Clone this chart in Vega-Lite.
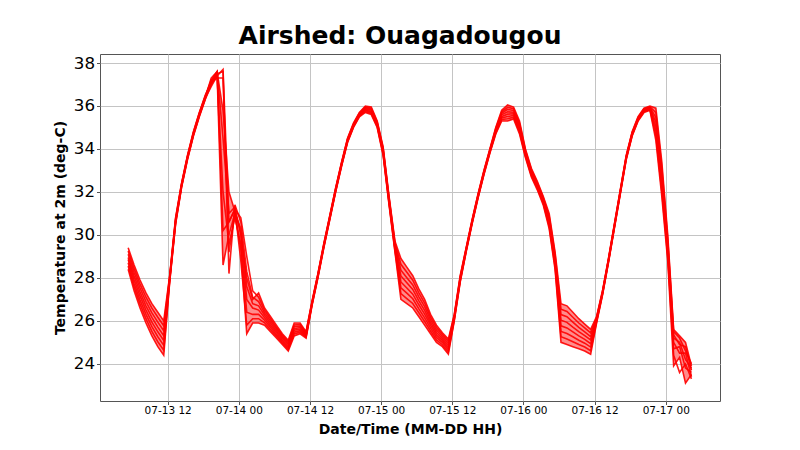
{
  "$schema": "https://vega.github.io/schema/vega-lite/v6.json",
  "width": 620,
  "height": 347,
  "autosize": {"type": "none"},
  "padding": {"left": 100, "top": 54, "right": 80, "bottom": 49},
  "background": "white",
  "title": {"text": "Airshed: Ouagadougou", "fontSize": 25, "fontWeight": "bold", "font": "DejaVu Sans", "color": "black", "anchor": "middle", "dx": -10, "dy": 24, "offset": 9, "baseline": "alphabetic"},
  "data": {"values": [
    {"t":"2023-07-13T05:20:00Z","a":28.4,"b":28.55,"c":28.7,"d":28.85,"e":28.95,"f":29.1,"g":29.25,"h":29.4},
    {"t":"2023-07-13T06:20:00Z","a":27.4,"b":27.57,"c":27.74,"d":27.91,"e":28.09,"f":28.26,"g":28.43,"h":28.6},
    {"t":"2023-07-13T07:20:00Z","a":26.6,"b":26.79,"c":26.97,"d":27.16,"e":27.34,"f":27.53,"g":27.71,"h":27.9},
    {"t":"2023-07-13T08:20:00Z","a":25.9,"b":26.1,"c":26.3,"d":26.5,"e":26.7,"f":26.9,"g":27.1,"h":27.3},
    {"t":"2023-07-13T09:20:00Z","a":25.3,"b":25.51,"c":25.73,"d":25.94,"e":26.16,"f":26.37,"g":26.59,"h":26.8},
    {"t":"2023-07-13T10:20:00Z","a":24.8,"b":25.03,"c":25.26,"d":25.49,"e":25.71,"f":25.94,"g":26.17,"h":26.4},
    {"t":"2023-07-13T11:20:00Z","a":24.4,"b":24.63,"c":24.86,"d":25.09,"e":25.31,"f":25.54,"g":25.77,"h":26.0},
    {"t":"2023-07-13T12:20:00Z","a":27.8,"b":27.84,"c":27.89,"d":27.93,"e":27.97,"f":28.01,"g":28.06,"h":28.1},
    {"t":"2023-07-13T13:20:00Z","a":30.5,"b":30.54,"c":30.59,"d":30.63,"e":30.67,"f":30.71,"g":30.76,"h":30.8},
    {"t":"2023-07-13T14:20:00Z","a":32.2,"b":32.23,"c":32.26,"d":32.29,"e":32.31,"f":32.34,"g":32.37,"h":32.4},
    {"t":"2023-07-13T15:20:00Z","a":33.5,"b":33.53,"c":33.56,"d":33.59,"e":33.61,"f":33.64,"g":33.67,"h":33.7},
    {"t":"2023-07-13T16:20:00Z","a":34.6,"b":34.63,"c":34.66,"d":34.69,"e":34.71,"f":34.74,"g":34.77,"h":34.8},
    {"t":"2023-07-13T17:20:00Z","a":35.5,"b":35.53,"c":35.56,"d":35.59,"e":35.61,"f":35.64,"g":35.67,"h":35.7},
    {"t":"2023-07-13T18:20:00Z","a":36.3,"b":36.33,"c":36.36,"d":36.39,"e":36.41,"f":36.44,"g":36.47,"h":36.5},
    {"t":"2023-07-13T19:20:00Z","a":37.0,"b":37.2,"c":36.9,"d":37.3,"e":37.1,"f":37.0,"g":37.2,"h":37.1},
    {"t":"2023-07-13T20:20:00Z","a":37.5,"b":37.6,"c":37.4,"d":37.6,"e":37.3,"f":37.5,"g":37.4,"h":37.6},
    {"t":"2023-07-13T21:20:00Z","a":28.6,"b":30.2,"c":32.0,"d":34.5,"e":37.3,"f":37.6,"g":37.7,"h":35.8},
    {"t":"2023-07-13T22:20:00Z","a":30.0,"b":30.6,"c":29.6,"d":31.0,"e":29.2,"f":28.2,"g":30.6,"h":32.0},
    {"t":"2023-07-13T23:20:00Z","a":31.0,"b":31.2,"c":30.8,"d":31.3,"e":31.0,"f":31.4,"g":31.2,"h":31.1},
    {"t":"2023-07-14T00:20:00Z","a":29.3,"b":28.8,"c":29.6,"d":30.0,"e":30.3,"f":30.6,"g":30.8,"h":30.1},
    {"t":"2023-07-14T01:20:00Z","a":25.4,"b":25.8,"c":26.4,"d":27.0,"e":27.6,"f":28.3,"g":29.0,"h":28.0},
    {"t":"2023-07-14T02:20:00Z","a":25.9,"b":26.1,"c":26.3,"d":26.6,"e":26.8,"f":27.1,"g":27.4,"h":27.0},
    {"t":"2023-07-14T03:20:00Z","a":25.9,"b":26.1,"c":26.3,"d":26.5,"e":26.7,"f":26.9,"g":27.1,"h":27.3},
    {"t":"2023-07-14T04:20:00Z","a":25.8,"b":25.91,"c":26.03,"d":26.14,"e":26.26,"f":26.37,"g":26.49,"h":26.6},
    {"t":"2023-07-14T05:20:00Z","a":25.5,"b":25.6,"c":25.7,"d":25.8,"e":25.9,"f":26.0,"g":26.1,"h":26.2},
    {"t":"2023-07-14T06:20:00Z","a":25.2,"b":25.29,"c":25.37,"d":25.46,"e":25.54,"f":25.63,"g":25.71,"h":25.8},
    {"t":"2023-07-14T07:20:00Z","a":24.9,"b":24.97,"c":25.04,"d":25.11,"e":25.19,"f":25.26,"g":25.33,"h":25.4},
    {"t":"2023-07-14T08:20:00Z","a":24.6,"b":24.67,"c":24.74,"d":24.81,"e":24.89,"f":24.96,"g":25.03,"h":25.1},
    {"t":"2023-07-14T09:20:00Z","a":25.3,"b":25.39,"c":25.47,"d":25.56,"e":25.64,"f":25.73,"g":25.81,"h":25.9},
    {"t":"2023-07-14T10:20:00Z","a":25.4,"b":25.47,"c":25.54,"d":25.61,"e":25.69,"f":25.76,"g":25.83,"h":25.9},
    {"t":"2023-07-14T11:20:00Z","a":25.2,"b":25.24,"c":25.29,"d":25.33,"e":25.37,"f":25.41,"g":25.46,"h":25.5},
    {"t":"2023-07-14T12:20:00Z","a":26.7,"b":26.73,"c":26.76,"d":26.79,"e":26.81,"f":26.84,"g":26.87,"h":26.9},
    {"t":"2023-07-14T13:20:00Z","a":28.0,"b":28.03,"c":28.06,"d":28.09,"e":28.11,"f":28.14,"g":28.17,"h":28.2},
    {"t":"2023-07-14T14:20:00Z","a":29.4,"b":29.43,"c":29.46,"d":29.49,"e":29.51,"f":29.54,"g":29.57,"h":29.6},
    {"t":"2023-07-14T15:20:00Z","a":30.7,"b":30.73,"c":30.76,"d":30.79,"e":30.81,"f":30.84,"g":30.87,"h":30.9},
    {"t":"2023-07-14T16:20:00Z","a":32.0,"b":32.03,"c":32.06,"d":32.09,"e":32.11,"f":32.14,"g":32.17,"h":32.2},
    {"t":"2023-07-14T17:20:00Z","a":33.2,"b":33.23,"c":33.26,"d":33.29,"e":33.31,"f":33.34,"g":33.37,"h":33.4},
    {"t":"2023-07-14T18:20:00Z","a":34.3,"b":34.33,"c":34.36,"d":34.39,"e":34.41,"f":34.44,"g":34.47,"h":34.5},
    {"t":"2023-07-14T19:20:00Z","a":35.0,"b":35.03,"c":35.06,"d":35.09,"e":35.11,"f":35.14,"g":35.17,"h":35.2},
    {"t":"2023-07-14T20:20:00Z","a":35.5,"b":35.53,"c":35.56,"d":35.59,"e":35.61,"f":35.64,"g":35.67,"h":35.7},
    {"t":"2023-07-14T21:20:00Z","a":35.7,"b":35.74,"c":35.79,"d":35.83,"e":35.87,"f":35.91,"g":35.96,"h":36.0},
    {"t":"2023-07-14T22:20:00Z","a":35.6,"b":35.65,"c":35.7,"d":35.75,"e":35.8,"f":35.85,"g":35.9,"h":35.95},
    {"t":"2023-07-14T23:20:00Z","a":35.0,"b":35.04,"c":35.09,"d":35.13,"e":35.17,"f":35.21,"g":35.26,"h":35.3},
    {"t":"2023-07-15T00:20:00Z","a":33.7,"b":33.76,"c":33.81,"d":33.87,"e":33.93,"f":33.99,"g":34.04,"h":34.1},
    {"t":"2023-07-15T01:20:00Z","a":31.4,"b":31.46,"c":31.51,"d":31.57,"e":31.63,"f":31.69,"g":31.74,"h":31.8},
    {"t":"2023-07-15T02:20:00Z","a":29.2,"b":29.27,"c":29.34,"d":29.41,"e":29.49,"f":29.56,"g":29.63,"h":29.7},
    {"t":"2023-07-15T03:20:00Z","a":27.0,"b":27.27,"c":27.54,"d":27.81,"e":28.09,"f":28.36,"g":28.63,"h":28.9},
    {"t":"2023-07-15T04:20:00Z","a":26.8,"b":27.04,"c":27.29,"d":27.53,"e":27.77,"f":28.01,"g":28.26,"h":28.5},
    {"t":"2023-07-15T05:20:00Z","a":26.6,"b":26.81,"c":27.03,"d":27.24,"e":27.46,"f":27.67,"g":27.89,"h":28.1},
    {"t":"2023-07-15T06:20:00Z","a":26.2,"b":26.39,"c":26.57,"d":26.76,"e":26.94,"f":27.13,"g":27.31,"h":27.5},
    {"t":"2023-07-15T07:20:00Z","a":25.8,"b":25.97,"c":26.14,"d":26.31,"e":26.49,"f":26.66,"g":26.83,"h":27.0},
    {"t":"2023-07-15T08:20:00Z","a":25.4,"b":25.53,"c":25.66,"d":25.79,"e":25.91,"f":26.04,"g":26.17,"h":26.3},
    {"t":"2023-07-15T09:20:00Z","a":25.0,"b":25.11,"c":25.23,"d":25.34,"e":25.46,"f":25.57,"g":25.69,"h":25.8},
    {"t":"2023-07-15T10:20:00Z","a":24.8,"b":24.89,"c":24.99,"d":25.08,"e":25.17,"f":25.26,"g":25.36,"h":25.45},
    {"t":"2023-07-15T11:20:00Z","a":24.45,"b":24.55,"c":24.65,"d":24.75,"e":24.85,"f":24.95,"g":25.05,"h":25.15},
    {"t":"2023-07-15T12:20:00Z","a":26.0,"b":26.04,"c":26.09,"d":26.13,"e":26.17,"f":26.21,"g":26.26,"h":26.3},
    {"t":"2023-07-15T13:20:00Z","a":27.8,"b":27.84,"c":27.89,"d":27.93,"e":27.97,"f":28.01,"g":28.06,"h":28.1},
    {"t":"2023-07-15T14:20:00Z","a":29.2,"b":29.23,"c":29.26,"d":29.29,"e":29.31,"f":29.34,"g":29.37,"h":29.4},
    {"t":"2023-07-15T15:20:00Z","a":30.5,"b":30.53,"c":30.56,"d":30.59,"e":30.61,"f":30.64,"g":30.67,"h":30.7},
    {"t":"2023-07-15T16:20:00Z","a":31.7,"b":31.73,"c":31.76,"d":31.79,"e":31.81,"f":31.84,"g":31.87,"h":31.9},
    {"t":"2023-07-15T17:20:00Z","a":32.8,"b":32.83,"c":32.86,"d":32.89,"e":32.91,"f":32.94,"g":32.97,"h":33.0},
    {"t":"2023-07-15T18:20:00Z","a":33.8,"b":33.83,"c":33.86,"d":33.89,"e":33.91,"f":33.94,"g":33.97,"h":34.0},
    {"t":"2023-07-15T19:20:00Z","a":34.7,"b":34.74,"c":34.79,"d":34.83,"e":34.87,"f":34.91,"g":34.96,"h":35.0},
    {"t":"2023-07-15T20:20:00Z","a":35.3,"b":35.37,"c":35.44,"d":35.51,"e":35.59,"f":35.66,"g":35.73,"h":35.8},
    {"t":"2023-07-15T21:20:00Z","a":35.3,"b":35.41,"c":35.51,"d":35.62,"e":35.73,"f":35.84,"g":35.94,"h":36.05},
    {"t":"2023-07-15T22:20:00Z","a":35.4,"b":35.48,"c":35.56,"d":35.64,"e":35.71,"f":35.79,"g":35.87,"h":35.95},
    {"t":"2023-07-15T23:20:00Z","a":34.7,"b":34.79,"c":34.87,"d":34.96,"e":35.04,"f":35.13,"g":35.21,"h":35.3},
    {"t":"2023-07-16T00:20:00Z","a":33.6,"b":33.66,"c":33.71,"d":33.77,"e":33.83,"f":33.89,"g":33.94,"h":34.0},
    {"t":"2023-07-16T01:20:00Z","a":32.7,"b":32.76,"c":32.81,"d":32.87,"e":32.93,"f":32.99,"g":33.04,"h":33.1},
    {"t":"2023-07-16T02:20:00Z","a":32.1,"b":32.16,"c":32.21,"d":32.27,"e":32.33,"f":32.39,"g":32.44,"h":32.5},
    {"t":"2023-07-16T03:20:00Z","a":31.4,"b":31.46,"c":31.51,"d":31.57,"e":31.63,"f":31.69,"g":31.74,"h":31.8},
    {"t":"2023-07-16T04:20:00Z","a":30.3,"b":30.4,"c":30.5,"d":30.6,"e":30.7,"f":30.8,"g":30.9,"h":31.0},
    {"t":"2023-07-16T05:20:00Z","a":28.4,"b":28.51,"c":28.63,"d":28.74,"e":28.86,"f":28.97,"g":29.09,"h":29.2},
    {"t":"2023-07-16T06:20:00Z","a":25.0,"b":25.26,"c":25.51,"d":25.77,"e":26.03,"f":26.29,"g":26.54,"h":26.8},
    {"t":"2023-07-16T07:20:00Z","a":24.9,"b":25.16,"c":25.41,"d":25.67,"e":25.93,"f":26.19,"g":26.44,"h":26.7},
    {"t":"2023-07-16T08:20:00Z","a":24.8,"b":25.03,"c":25.26,"d":25.49,"e":25.71,"f":25.94,"g":26.17,"h":26.4},
    {"t":"2023-07-16T09:20:00Z","a":24.7,"b":24.9,"c":25.1,"d":25.3,"e":25.5,"f":25.7,"g":25.9,"h":26.1},
    {"t":"2023-07-16T10:20:00Z","a":24.6,"b":24.78,"c":24.96,"d":25.14,"e":25.31,"f":25.49,"g":25.67,"h":25.85},
    {"t":"2023-07-16T11:20:00Z","a":24.45,"b":24.61,"c":24.78,"d":24.94,"e":25.11,"f":25.27,"g":25.44,"h":25.6},
    {"t":"2023-07-16T12:20:00Z","a":25.9,"b":25.94,"c":25.99,"d":26.03,"e":26.07,"f":26.11,"g":26.16,"h":26.2},
    {"t":"2023-07-16T13:20:00Z","a":27.2,"b":27.23,"c":27.26,"d":27.29,"e":27.31,"f":27.34,"g":27.37,"h":27.4},
    {"t":"2023-07-16T14:20:00Z","a":28.7,"b":28.73,"c":28.76,"d":28.79,"e":28.81,"f":28.84,"g":28.87,"h":28.9},
    {"t":"2023-07-16T15:20:00Z","a":30.3,"b":30.33,"c":30.36,"d":30.39,"e":30.41,"f":30.44,"g":30.47,"h":30.5},
    {"t":"2023-07-16T16:20:00Z","a":31.9,"b":31.93,"c":31.96,"d":31.99,"e":32.01,"f":32.04,"g":32.07,"h":32.1},
    {"t":"2023-07-16T17:20:00Z","a":33.5,"b":33.53,"c":33.56,"d":33.59,"e":33.61,"f":33.64,"g":33.67,"h":33.7},
    {"t":"2023-07-16T18:20:00Z","a":34.6,"b":34.63,"c":34.66,"d":34.69,"e":34.71,"f":34.74,"g":34.77,"h":34.8},
    {"t":"2023-07-16T19:20:00Z","a":35.3,"b":35.33,"c":35.36,"d":35.39,"e":35.41,"f":35.44,"g":35.47,"h":35.5},
    {"t":"2023-07-16T20:20:00Z","a":35.7,"b":35.73,"c":35.76,"d":35.79,"e":35.81,"f":35.84,"g":35.87,"h":35.9},
    {"t":"2023-07-16T21:20:00Z","a":35.8,"b":35.83,"c":35.86,"d":35.89,"e":35.91,"f":35.94,"g":35.97,"h":36.0},
    {"t":"2023-07-16T22:20:00Z","a":34.4,"b":34.61,"c":34.83,"d":35.04,"e":35.26,"f":35.47,"g":35.69,"h":35.9},
    {"t":"2023-07-16T23:20:00Z","a":31.8,"b":32.03,"c":32.26,"d":32.49,"e":32.71,"f":32.94,"g":33.17,"h":33.4},
    {"t":"2023-07-17T00:20:00Z","a":28.8,"b":28.97,"c":29.14,"d":29.31,"e":29.49,"f":29.66,"g":29.83,"h":30.0},
    {"t":"2023-07-17T01:20:00Z","a":23.9,"b":24.4,"c":24.7,"d":25.0,"e":25.2,"f":25.35,"g":25.5,"h":25.6},
    {"t":"2023-07-17T02:20:00Z","a":24.3,"b":23.6,"c":24.8,"d":24.5,"e":25.0,"f":24.9,"g":25.2,"h":25.3},
    {"t":"2023-07-17T03:20:00Z","a":23.1,"b":24.0,"c":23.8,"d":24.5,"e":24.2,"f":24.8,"g":24.6,"h":25.0},
    {"t":"2023-07-17T04:20:00Z","a":23.5,"b":23.3,"c":23.6,"d":23.4,"e":23.8,"f":23.7,"g":24.0,"h":23.9}
  ]},
  "encoding": {
    "x": {"field": "t", "type": "temporal",
      "scale": {"type": "utc", "domain": [1689208500000, 1689584940000]},
      "axis": {"title": "Date/Time (MM-DD HH)", "labelExpr": "utcFormat(datum.value, '%m-%d %H')", "values": [1689249600000, 1689292800000, 1689336000000, 1689379200000, 1689422400000, 1689465600000, 1689508800000, 1689552000000], "labelFontSize": 10.5, "labelPadding": 1, "titlePadding": 6, "labelFlush": false, "labelOverlap": false}}
  },
  "layer": [
    {
      "mark": {"type": "area", "color": "#ff0000", "opacity": 0.45, "clip": true},
      "encoding": {
        "y": {"field": "a", "type": "quantitative",
          "scale": {"domain": [22.27, 38.42], "nice": false, "zero": false},
          "axis": {"title": "Temperature at 2m (deg-C)", "values": [24,26,28,30,32,34,36,38], "labelFontSize": 16.7, "labelPadding": 2, "titlePadding": 6}},
        "y2": {"field": "h"}
      }
    },
    {
      "transform": [{"fold": ["a","b","c","d","e","f","g","h"], "as": ["member","temp"]}],
      "mark": {"type": "line", "stroke": "#ff0000", "strokeWidth": 1.6, "opacity": 0.9, "clip": true},
      "encoding": {
        "y": {"field": "temp", "type": "quantitative",
          "scale": {"domain": [22.27, 38.42], "nice": false, "zero": false},
          "axis": {"title": "Temperature at 2m (deg-C)", "values": [24,26,28,30,32,34,36,38], "labelFontSize": 16.7, "labelPadding": 2, "titlePadding": 6}},
        "detail": {"field": "member", "type": "nominal"}
      }
    }
  ],
  "config": {
    "font": "DejaVu Sans",
    "view": {"stroke": "#555", "strokeWidth": 1},
    "axis": {"labelFont": "DejaVu Sans", "titleFont": "DejaVu Sans", "labelColor": "black", "titleColor": "black", "titleFontSize": 14, "titleFontWeight": "bold", "gridColor": "#c4c4c4", "gridWidth": 1, "gridOpacity": 1, "domain": false, "tickColor": "#555", "tickSize": 3.5, "tickWidth": 1}
  }
}
